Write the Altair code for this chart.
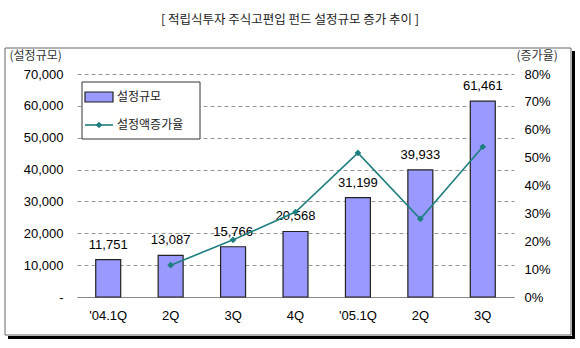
import json
import altair as alt
import pandas as pd

# ---- data ----
quarters = ["'04.1Q", "2Q", "3Q", "4Q", "'05.1Q", "2Q", "3Q"]
size_values = [11751, 13087, 15766, 20568, 31199, 39933, 61461]
growth_pct = [None, 11.4, 20.5, 30.5, 51.7, 28.0, 53.9]
left_ticks = [0, 10000, 20000, 30000, 40000, 50000, 60000, 70000]
right_ticks = [0, 0.1, 0.2, 0.3, 0.4, 0.5, 0.6, 0.7, 0.8]

title_text = "[ 적립식투자 주식고편입 펀드 설정규모 증가 추이 ]"
series_names = ["설정규모", "설정액증가율"]

df = pd.DataFrame({
    "i": list(range(len(quarters))),
    "q": quarters,
    "size": size_values,
    "growth": [None if g is None else g / 100 for g in growth_pct],
})

KR = "Noto Sans CJK KR"
NUM = "Liberation Sans, Arial, sans-serif"
TEAL = "#1E7F80"
BAR = "#9999FF"
one = pd.DataFrame({"a": [0]})

x_enc = alt.X(
    "i:O",
    scale=alt.Scale(paddingInner=0.6, paddingOuter=0.3),
    axis=alt.Axis(
        title=None, labelExpr=json.dumps(quarters) + "[datum.value]",
        labelAngle=0, ticks=False, domainColor="#888", labelPadding=12,
        labelFont=NUM, labelFontSize=13, labelColor="#000", grid=False,
    ),
)

y_left = alt.Y(
    "size:Q",
    scale=alt.Scale(domain=[0, 70000], nice=False),
    axis=alt.Axis(
        values=left_ticks, labelOverlap=False,
        labelExpr="datum.value == 0 ? '-' : format(datum.value, ',')",
        grid=True, gridDash=[4, 3], gridColor="#999", domain=False,
        ticks=False, labelPadding=14, labelFont=NUM, labelFontSize=13,
        labelColor="#000",
        title="(설정규모)", titleAngle=0, titleX=-68, titleY=-19,
        titleAlign="left", titleBaseline="middle", titleFont=KR,
        titleFontSize=12, titleFontWeight="normal", titleColor="#333",
    ),
)
y_right = alt.Y(
    "growth:Q",
    scale=alt.Scale(domain=[0, 0.8], nice=False),
    axis=alt.Axis(
        orient="right", values=right_ticks, format=".0%", grid=False,
        labelOverlap=False,
        domain=False, ticks=False, labelPadding=10, labelFont=NUM,
        labelFontSize=13, labelColor="#000",
        title="(증가율)", titleAngle=0, titleX=2, titleY=-19,
        titleAlign="left", titleBaseline="middle", titleFont=KR,
        titleFontSize=12, titleFontWeight="normal", titleColor="#333",
    ),
)

base = alt.Chart(df)

bars = base.mark_bar(color=BAR, stroke="#222", strokeWidth=1.2).encode(
    x=x_enc, y=y_left)
bar_labels = base.mark_text(dy=-11, baseline="alphabetic", font=NUM,
                            fontSize=13, color="#000").encode(
    x=x_enc, y=y_left, text=alt.Text("size:Q", format=","))

line = base.mark_line(color=TEAL, strokeWidth=1.6).encode(x=x_enc, y=y_right)
points = base.mark_point(shape="diamond", filled=True, size=45, color=TEAL,
                         opacity=1).encode(x=x_enc, y=y_right)

# ---- frame, title and legend ----
frame = alt.Chart(one).mark_rect(fillOpacity=0, stroke="#666", strokeWidth=1).encode(
    x=alt.value(-72), x2=alt.value(494), y=alt.value(-26), y2=alt.value(261))
shadow_r = alt.Chart(one).mark_rect(color="#000").encode(
    x=alt.value(495), x2=alt.value(498), y=alt.value(-23), y2=alt.value(265))
shadow_b = alt.Chart(one).mark_rect(color="#000").encode(
    x=alt.value(-69), x2=alt.value(498), y=alt.value(262), y2=alt.value(265))
title = alt.Chart(one).mark_text(text=title_text, font=KR, fontSize=12.5,
                                 color="#222", align="center", baseline="middle").encode(
    x=alt.value(213), y=alt.value(-54))

leg_box = alt.Chart(one).mark_rect(fill="white", stroke="#333", strokeWidth=1).encode(
    x=alt.value(5), x2=alt.value(123), y=alt.value(8), y2=alt.value(65))
leg_sw = alt.Chart(one).mark_rect(fill=BAR, stroke="#222", strokeWidth=1.2).encode(
    x=alt.value(8), x2=alt.value(36), y=alt.value(18), y2=alt.value(28))
leg_t1 = alt.Chart(one).mark_text(text=series_names[0], font=KR, fontSize=12,
                                  color="#222", align="left", baseline="middle").encode(
    x=alt.value(40), y=alt.value(23))
leg_ln = alt.Chart(one).mark_rule(color=TEAL, strokeWidth=1.6).encode(
    x=alt.value(8), x2=alt.value(36), y=alt.value(51))
leg_pt = alt.Chart(one).mark_point(shape="diamond", filled=True, size=45,
                                   color=TEAL, opacity=1).encode(
    x=alt.value(22), y=alt.value(51))
leg_t2 = alt.Chart(one).mark_text(text=series_names[1], font=KR, fontSize=12,
                                  color="#222", align="left", baseline="middle").encode(
    x=alt.value(40), y=alt.value(51))

chart = alt.layer(
    frame, shadow_r, shadow_b, title,
    alt.layer(bars, bar_labels),
    alt.layer(line, points),
    leg_box, leg_sw, leg_t1, leg_ln, leg_pt, leg_t2,
).resolve_scale(y="independent").properties(
    width=437, height=223, autosize="none",
    padding={"left": 77, "top": 74, "right": 66, "bottom": 51},
    background="white",
).configure_view(strokeWidth=0)

chart.save("out.html", embed_options={"renderer": "svg", "actions": False})
